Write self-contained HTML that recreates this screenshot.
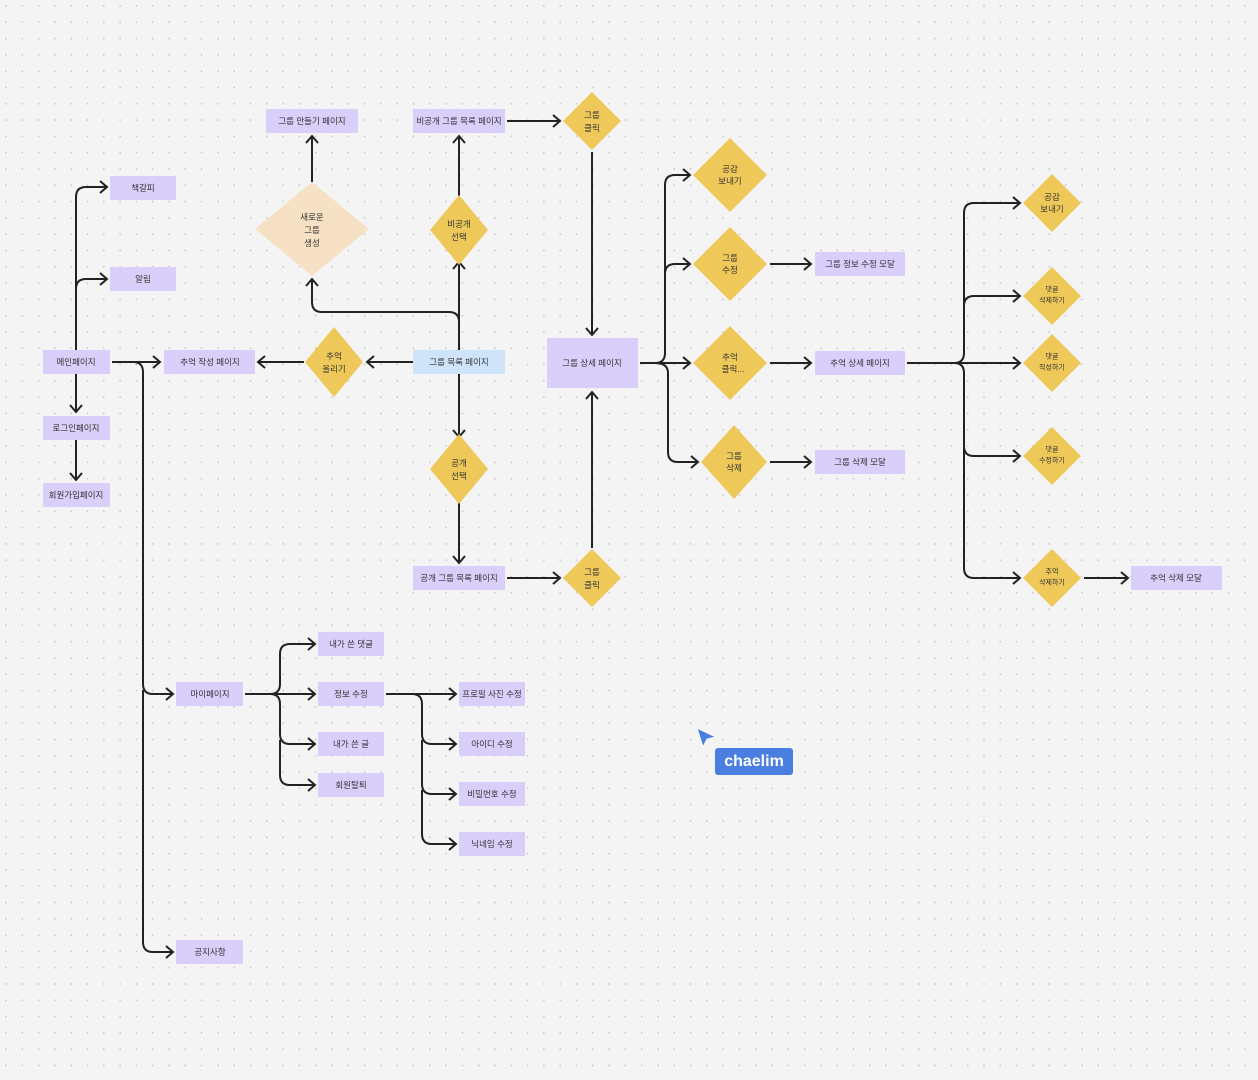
<!DOCTYPE html>
<html><head><meta charset="utf-8"><style>
html,body{margin:0;padding:0;background:#f4f4f4;}
svg{display:block;}
text{font-family:"Liberation Sans","Noto Sans CJK KR",sans-serif;font-size:8.5px;fill:#333;text-anchor:middle;dominant-baseline:central;}
</style></head><body>
<svg width="1258" height="1080" viewBox="0 0 1258 1080" xmlns="http://www.w3.org/2000/svg">
<defs>
<pattern id="dots" width="16.3" height="16.3" patternUnits="userSpaceOnUse" x="4" y="4">
<circle cx="2" cy="2" r="0.9" fill="#c4c4c4"/></pattern>
<marker id="a" markerWidth="14" markerHeight="16" refX="10" refY="8" orient="auto" markerUnits="userSpaceOnUse">
<path d="M3 2 L10 8 L3 14" fill="none" stroke="#222" stroke-width="2"/></marker>
</defs>
<rect width="1258" height="1080" fill="#f4f4f4"/>
<rect width="1258" height="1080" fill="url(#dots)"/>

<g fill="none" stroke="#222" stroke-width="2" marker-end="url(#a)">
<path d="M76 350 V197 Q76 187 86 187 H107"/>
<path d="M76 300 V289 Q76 279 86 279 H107"/>
<path d="M76 374 V412"/>
<path d="M76 440 V480"/>
<path d="M112 362 H160"/>
<path d="M112 362 H133 Q143 362 143 372 V684 Q143 694 153 694 H173"/>
<path d="M143 690 V942 Q143 952 153 952 H173"/>
<path d="M413 362 H367"/>
<path d="M304 362 H258"/>
<path d="M459 350 V262"/>
<path d="M459 350 V322 Q459 312 449 312 H322 Q312 312 312 302 V279"/>
<path d="M459 196 V136"/>
<path d="M312 182 V136"/>
<path d="M507 121 H560"/>
<path d="M592 152 V335"/>
<path d="M459 374 V437"/>
<path d="M459 502 V563"/>
<path d="M507 578 H560"/>
<path d="M592 548 V392"/>
<path d="M640 363 H690"/>
<path d="M640 363 H655 Q665 363 665 353 V185 Q665 175 675 175 H690"/>
<path d="M665 280 V274 Q665 264 675 264 H690"/>
<path d="M655 363 Q668 363 668 373 V452 Q668 462 678 462 H698"/>
<path d="M770 264 H811"/>
<path d="M770 363 H811"/>
<path d="M770 462 H811"/>
<path d="M907 363 H1020"/>
<path d="M907 363 H954 Q964 363 964 353 V213 Q964 203 974 203 H1020"/>
<path d="M964 320 V306 Q964 296 974 296 H1020"/>
<path d="M954 363 Q964 363 964 373 V446 Q964 456 974 456 H1020"/>
<path d="M964 440 V568 Q964 578 974 578 H1020"/>
<path d="M1084 578 H1128"/>
<path d="M245 694 H315"/>
<path d="M245 694 H270 Q280 694 280 684 V654 Q280 644 290 644 H315"/>
<path d="M270 694 Q280 694 280 704 V734 Q280 744 290 744 H315"/>
<path d="M280 740 V775 Q280 785 290 785 H315"/>
<path d="M386 694 H456"/>
<path d="M386 694 H412 Q422 694 422 704 V734 Q422 744 432 744 H456"/>
<path d="M422 740 V784 Q422 794 432 794 H456"/>
<path d="M422 790 V834 Q422 844 432 844 H456"/>
</g>

<g fill="#d9cffa">
<rect x="266" y="109" width="92" height="24"/>
<rect x="413" y="109" width="92" height="24"/>
<rect x="110" y="176" width="66" height="24"/>
<rect x="110" y="267" width="66" height="24"/>
<rect x="43" y="350" width="67" height="24"/>
<rect x="164" y="350" width="91" height="24"/>
<rect x="547" y="338" width="91" height="50"/>
<rect x="43" y="416" width="67" height="24"/>
<rect x="43" y="483" width="67" height="24"/>
<rect x="413" y="566" width="92" height="24"/>
<rect x="815" y="252" width="90" height="24"/>
<rect x="815" y="351" width="90" height="24"/>
<rect x="815" y="450" width="90" height="24"/>
<rect x="1131" y="566" width="91" height="24"/>
<rect x="176" y="682" width="67" height="24"/>
<rect x="318" y="632" width="66" height="24"/>
<rect x="318" y="682" width="66" height="24"/>
<rect x="318" y="732" width="66" height="24"/>
<rect x="318" y="773" width="66" height="24"/>
<rect x="459" y="682" width="66" height="24"/>
<rect x="459" y="732" width="66" height="24"/>
<rect x="459" y="782" width="66" height="24"/>
<rect x="459" y="832" width="66" height="24"/>
<rect x="176" y="940" width="67" height="24"/>
</g>
<rect x="413" y="350" width="92" height="24" fill="#cfe3fb"/>

<polygon points="312,182 369,229 312,276 255,229" fill="#f7e1c4"/>
<g fill="#eec95a">
<polygon points="592,92 621,121 592,150 563,121"/>
<polygon points="459,195 488,230 459,265 430,230"/>
<polygon points="334,327 363,362 334,397 305,362"/>
<polygon points="459,434 488,469 459,504 430,469"/>
<polygon points="592,549 621,578 592,607 563,578"/>
<polygon points="730,138 767,175 730,212 693,175"/>
<polygon points="730,227 767,264 730,301 693,264"/>
<polygon points="730,326 767,363 730,400 693,363"/>
<polygon points="734,425 767,462 734,499 701,462"/>
<polygon points="1052,174 1081,203 1052,232 1023,203"/>
<polygon points="1052,267 1081,296 1052,325 1023,296"/>
<polygon points="1052,334 1081,363 1052,392 1023,363"/>
<polygon points="1052,427 1081,456 1052,485 1023,456"/>
<polygon points="1052,549 1081,578 1052,607 1023,578"/>
</g>

<text x="312" y="121">그룹 만들기 페이지</text>
<text x="459" y="121">비공개 그룹 목록 페이지</text>
<text x="143" y="188">책갈피</text>
<text x="143" y="279">알림</text>
<text x="76" y="362">메인페이지</text>
<text x="210" y="362">추억 작성 페이지</text>
<text x="459" y="362">그룹 목록 페이지</text>
<text x="592" y="363">그룹 상세 페이지</text>
<text x="76" y="428">로그인페이지</text>
<text x="76" y="495">회원가입페이지</text>
<text x="459" y="578">공개 그룹 목록 페이지</text>
<text x="860" y="264">그룹 정보 수정 모달</text>
<text x="860" y="363">추억 상세 페이지</text>
<text x="860" y="462">그룹 삭제 모달</text>
<text x="1176" y="578">추억 삭제 모달</text>
<text x="210" y="694">마이페이지</text>
<text x="351" y="644">내가 쓴 댓글</text>
<text x="351" y="694">정보 수정</text>
<text x="351" y="744">내가 쓴 글</text>
<text x="351" y="785">회원탈퇴</text>
<text x="492" y="694">프로필 사진 수정</text>
<text x="492" y="744">아이디 수정</text>
<text x="492" y="794">비밀번호 수정</text>
<text x="492" y="844">닉네임 수정</text>
<text x="210" y="952">공지사항</text>

<text x="312" y="217">새로운</text><text x="312" y="230">그룹</text><text x="312" y="243">생성</text>
<text x="592" y="115">그룹</text><text x="592" y="128">클릭</text>
<text x="459" y="224">비공개</text><text x="459" y="237">선택</text>
<text x="334" y="356">추억</text><text x="334" y="369">올리기</text>
<text x="459" y="463">공개</text><text x="459" y="476">선택</text>
<text x="592" y="572">그룹</text><text x="592" y="585">클릭</text>
<text x="730" y="169">공감</text><text x="730" y="181">보내기</text>
<text x="730" y="258">그룹</text><text x="730" y="270">수정</text>
<text x="730" y="357">추억</text><text x="733" y="369">클릭...</text>
<text x="734" y="456">그룹</text><text x="734" y="468">삭제</text>
<text x="1052" y="197">공감</text><text x="1052" y="209">보내기</text>
<text x="1052" y="290" style="font-size:7px">댓글</text><text x="1052" y="301" style="font-size:7px">삭제하기</text>
<text x="1052" y="357" style="font-size:7px">댓글</text><text x="1052" y="368" style="font-size:7px">작성하기</text>
<text x="1052" y="450" style="font-size:7px">댓글</text><text x="1052" y="461" style="font-size:7px">수정하기</text>
<text x="1052" y="572" style="font-size:7px">추억</text><text x="1052" y="583" style="font-size:7px">삭제하기</text>

<path d="M697 728 L716 737 L707 739 L703 747 Z" fill="#4a7ee0" stroke="#fff" stroke-width="1"/>
<rect x="715" y="748" width="78" height="27" rx="3" fill="#4a7ee0"/>
<text x="754" y="761.5" style="font-size:16px;fill:#fff;font-weight:bold">chaelim</text>
</svg>
</body></html>
